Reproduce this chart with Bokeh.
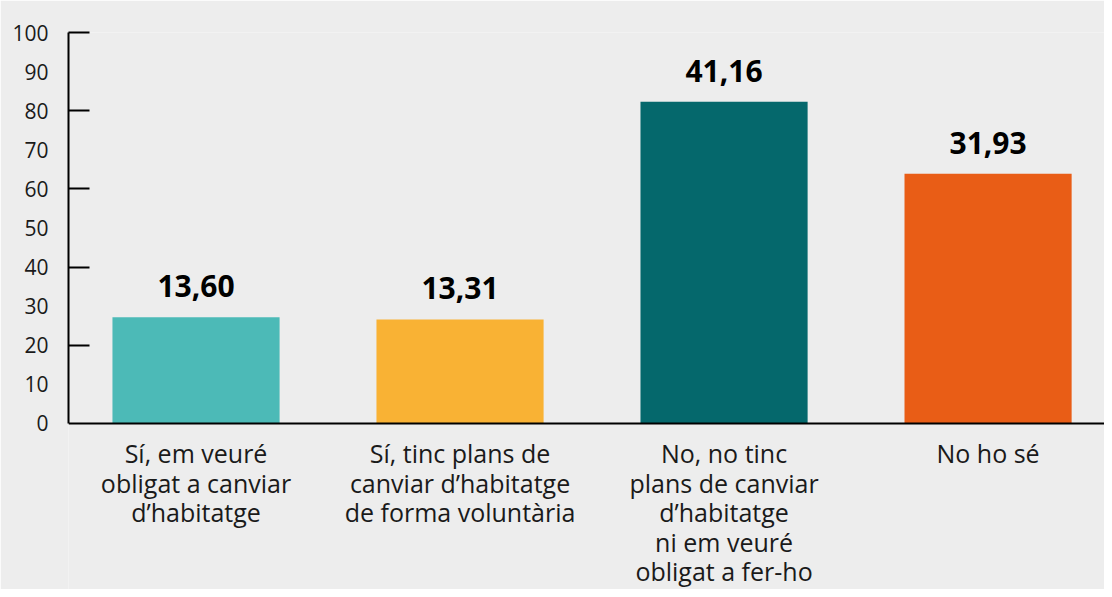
from bokeh.plotting import figure
from bokeh.models import Range1d, FixedTicker, ColumnDataSource, LabelSet, Span
from bokeh.embed import file_html
from bokeh.resources import INLINE
from bokeh.core.properties import value

categories = [
    ["Sí, em veuré", "obligat a canviar", "d’habitatge"],
    ["Sí, tinc plans de", "canviar d’habitatge", "de forma voluntària"],
    ["No, no tinc", "plans de canviar", "d’habitatge", "ni em veuré", "obligat a fer-ho"],
    ["No ho sé"],
]
values = [13.60, 13.31, 41.16, 31.93]
colors = ["#4cbab7", "#f9b234", "#05686c", "#e95d16"]
# axis labelled 0..100 while bars are drawn on a 0..50 scale
tick_positions = [0, 5, 10, 15, 20, 25, 30, 35, 40, 45, 50]
tick_labels = ["0", "10", "20", "30", "40", "50", "60", "70", "80", "90", "100"]
minor_positions = [10, 20, 30, 40, 50]

BG = "#ededed"
FONT = "Open Sans"
LINE_STEP = 29.5   # px between category text lines
FIRST_OFF = -13    # px below the baseline for the first line

xs = list(range(len(categories)))
src = ColumnDataSource(dict(
    x=xs,
    top=values,
    color=colors,
    label=[f"{v:.2f}".replace(".", ",") for v in values],
))

# one entry per text line of the category captions (centred line by line)
cx, cy, ctext, coff = [], [], [], []
for i, lines in enumerate(categories):
    for k, line in enumerate(lines):
        cx.append(i)
        cy.append(0)
        ctext.append(line)
        coff.append(FIRST_OFF - LINE_STEP * k)
cat_src = ColumnDataSource(dict(x=cx, y=cy, text=ctext, yoff=coff))

# frame extends to the bottom of the figure so the category texts below the baseline are shown
p = figure(
    width=1104, height=589,
    x_range=Range1d(-0.483, 3.441), y_range=Range1d(-21.23, 50),
    x_axis_location=None,
    output_backend="svg", toolbar_location=None,
    background_fill_color=BG, border_fill_color=BG,
    min_border_left=68, min_border_right=0, min_border_top=32, min_border_bottom=0,
)
p.outline_line_color = None
p.grid.visible = False

p.vbar(x="x", top="top", width=0.633, bottom=0, color="color", line_color=None, source=src)
p.text(x="x", y="top", text="label", source=src, text_align="center",
       text_baseline="alphabetic", y_offset=-31, text_font=value(FONT),
       text_font_style="bold", text_font_size="30px", text_color="#000000")

# baseline (x axis line)
p.add_layout(Span(location=0, dimension="width", line_color="#000000", line_width=2))

# y axis
ya = p.yaxis[0]
ya.bounds = (0, 50)
ya.ticker = FixedTicker(ticks=tick_positions, minor_ticks=minor_positions)
ya.major_label_overrides = {t: l for t, l in zip(tick_positions, tick_labels)}
ya.axis_line_width = 2
ya.axis_line_color = "#000000"
ya.major_tick_in = 0
ya.major_tick_out = 0
ya.minor_tick_in = 21
ya.minor_tick_out = 0
ya.minor_tick_line_width = 2
ya.minor_tick_line_color = "#000000"
ya.major_label_standoff = 20
ya.major_label_text_font = FONT
ya.major_label_text_font_size = "21px"
ya.major_label_text_color = "#1a1a1a"

cats = LabelSet(x="x", y="y", text="text", source=cat_src, text_align="center",
                text_baseline="top", y_offset="yoff", text_font=value(FONT),
                text_font_size="25px", text_color="#1a1a1a")
p.add_layout(cats)

open("out.html", "w").write(file_html(p, INLINE))
